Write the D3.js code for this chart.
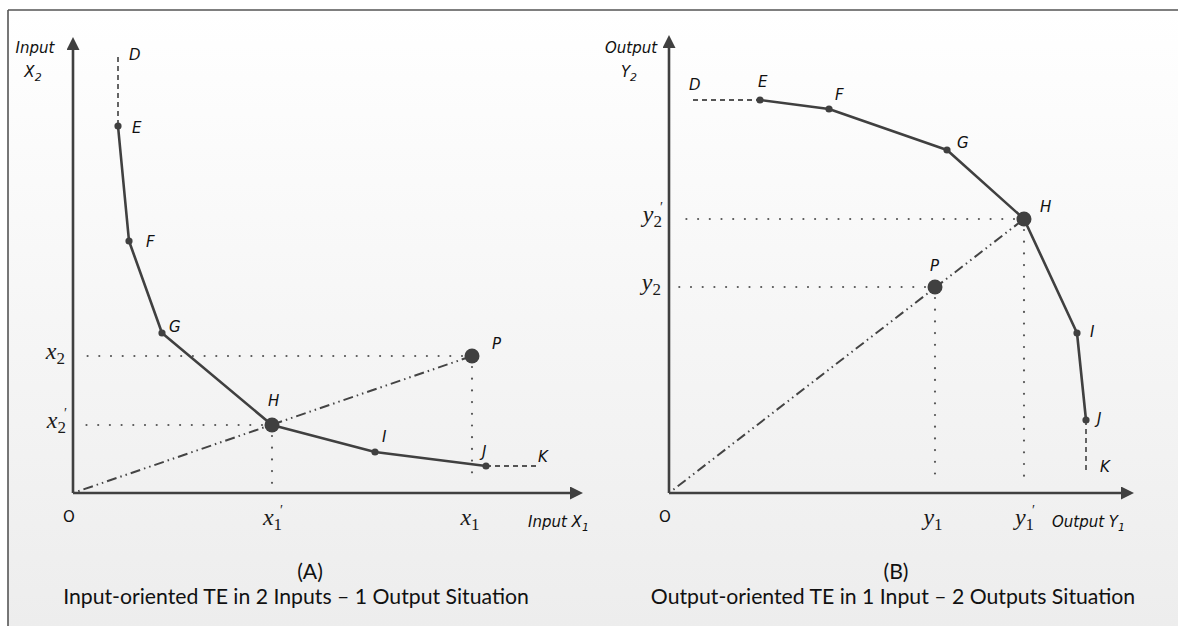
<!DOCTYPE html>
<html>
<head>
<meta charset="utf-8">
<script src="https://cdn.jsdelivr.net/npm/d3@7"></script>
<style>
  html, body { margin: 0; padding: 0; background: #ffffff; overflow: hidden; }
  svg { display: block; }
</style>
</head>
<body>
<script>
// Point names along each frontier (D and K are the open ends)
const pointNames = ["D", "E", "F", "G", "H", "I", "J", "K"];

// Panel A: input isoquant (2 inputs, 1 output)
const inputX1 = [9.0, 9.0, 11.2, 17.8, 39.8, 60.4, 82.6, 93.4];
const inputX2 = [87.2, 73.4, 50.4, 32.0, 13.6, 8.2, 5.4, 5.4];
const firmA = [79.8, 27.4];           // firm P (x1, x2)
const axisEndA = [102, 91.2];

// Panel B: production possibility frontier (1 input, 2 outputs)
const outputY1 = [4.8, 18.2, 32.0, 55.6, 71.0, 81.6, 83.4, 83.4];
const outputY2 = [78.6, 78.6, 76.8, 68.6, 54.8, 32.0, 14.6, 4.2];
const firmB = [53.2, 41.2];           // firm P (y1, y2)
const axisEndB = [93, 91.6];

// Captions
const captionTags = ["(A)", "(B)"];
const captionTexts = [
  "Input-oriented TE in 2 Inputs \u2013 1 Output Situation",
  "Output-oriented TE in 1 Input \u2013 2 Outputs Situation"
];

const W = 1178, H = 626;
const INK = "#404040";

const svg = d3.select("body").append("svg").attr("width", W).attr("height", H);
const defs = svg.append("defs");

const grad = defs.append("linearGradient").attr("id", "bg").attr("x1", 0).attr("y1", 0).attr("x2", 0).attr("y2", 1);
grad.append("stop").attr("offset", "0%").attr("stop-color", "#ffffff");
grad.append("stop").attr("offset", "100%").attr("stop-color", "#ededed");

defs.append("marker")
  .attr("id", "arrow").attr("viewBox", "0 0 13 13")
  .attr("refX", 7).attr("refY", 6.5)
  .attr("markerWidth", 13).attr("markerHeight", 13)
  .attr("markerUnits", "userSpaceOnUse").attr("orient", "auto")
  .append("path").attr("d", "M0,0 L13,6.5 L0,13 Z").attr("fill", INK);

// Framed background
svg.append("rect").attr("x", 8).attr("y", 10).attr("width", W - 8).attr("height", H - 10).attr("fill", "url(#bg)");
svg.append("line").attr("x1", 8).attr("y1", 10).attr("x2", W).attr("y2", 10).attr("stroke", "#555").attr("stroke-width", 1.6);
svg.append("line").attr("x1", 8).attr("y1", 10).attr("x2", 8).attr("y2", H).attr("stroke", "#555").attr("stroke-width", 1.6);

// Serif italic letter with an upright subscript and optional prime
function mathLabel(g, px, py, letter, sub, prime, anchor) {
  const t = g.append("text")
    .attr("x", px).attr("y", py).attr("text-anchor", anchor)
    .attr("font-family", "'Liberation Serif', 'DejaVu Serif', serif")
    .attr("font-style", "italic").attr("font-size", 24).attr("fill", "#1a1a1a");
  t.append("tspan").text(letter);
  t.append("tspan").attr("font-size", 17).attr("font-style", "normal").attr("dy", 5).text(sub);
  if (prime) {
    t.append("tspan").attr("font-size", 14).attr("font-style", "normal")
      .attr("dx", -2).attr("dy", -15).text("\u2032");
  }
}

function sansItalic(g, px, py, txt, anchor, sub) {
  const t = g.append("text")
    .attr("x", px).attr("y", py).attr("text-anchor", anchor || "start")
    .attr("font-family", "'DejaVu Sans', sans-serif").attr("font-style", "italic")
    .attr("font-size", 15).attr("fill", "#111");
  t.append("tspan").text(txt);
  if (sub) t.append("tspan").attr("font-size", 11).attr("dy", 4).text(sub);
  return t;
}

function drawPanel(cfg) {
  const g = svg.append("g");
  const x = d3.scaleLinear().domain([0, 100]).range([cfg.ox, cfg.ox + 500]);
  const y = d3.scaleLinear().domain([0, 100]).range([cfg.oy, cfg.oy - 500]);
  const pts = pointNames.map((n, i) => ({ name: n, px: x(cfg.xs[i]), py: y(cfg.ys[i]) }));
  const byName = Object.fromEntries(pts.map(p => [p.name, p]));
  const P = { px: x(cfg.firm[0]), py: y(cfg.firm[1]) };
  const Hp = byName.H;

  // Axes with arrowheads
  g.append("line").attr("x1", x(0)).attr("y1", y(0)).attr("x2", x(0)).attr("y2", y(cfg.axisEnd[1]) + 6)
    .attr("stroke", INK).attr("stroke-width", 2.6).attr("marker-end", "url(#arrow)");
  g.append("line").attr("x1", x(0)).attr("y1", y(0)).attr("x2", x(cfg.axisEnd[0]) - 6).attr("y2", y(0))
    .attr("stroke", INK).attr("stroke-width", 2.6).attr("marker-end", "url(#arrow)");

  // Dotted projections onto both axes
  const dotted = (x1, y1, x2, y2) => g.append("line")
    .attr("x1", x1).attr("y1", y1).attr("x2", x2).attr("y2", y2)
    .attr("stroke", "#555").attr("stroke-width", 2.2).attr("stroke-linecap", "round")
    .attr("stroke-dasharray", "0,11.7");
  [P, Hp].forEach(p => {
    dotted(p.px - 10, p.py, x(0) + 10, p.py);
    dotted(p.px, p.py + 11, p.px, y(0) - 10);
  });

  // Ray from the origin through the firm
  const rayEnd = cfg.rayTo === "P" ? P : Hp;
  g.append("line").attr("x1", x(0)).attr("y1", y(0)).attr("x2", rayEnd.px).attr("y2", rayEnd.py)
    .attr("stroke", "#444").attr("stroke-width", 2).attr("stroke-dasharray", "1.5,4,1.5,4,10,4");

  // Frontier: dashed open ends, solid piecewise segment
  const line = d3.line().x(p => p.px).y(p => p.py);
  const dashed = [pts.slice(0, 2), pts.slice(6, 8)];
  dashed.forEach(seg => g.append("path").attr("d", line(seg)).attr("fill", "none")
    .attr("stroke", "#555").attr("stroke-width", 1.8).attr("stroke-dasharray", "5,4"));
  g.append("path").attr("d", line(pts.slice(1, 7))).attr("fill", "none")
    .attr("stroke", INK).attr("stroke-width", 2.6).attr("stroke-linejoin", "round");

  // Markers
  pts.slice(1, 7).forEach(p => g.append("circle").attr("cx", p.px).attr("cy", p.py)
    .attr("r", p.name === "H" ? 7.5 : 3.6).attr("fill", INK));
  g.append("circle").attr("cx", P.px).attr("cy", P.py).attr("r", 7.5).attr("fill", INK);

  // Point names
  pts.forEach(p => {
    const o = cfg.labelOffsets[p.name];
    sansItalic(g, p.px + o[0], p.py + o[1], p.name);
  });
  sansItalic(g, P.px + cfg.labelOffsets.P[0], P.py + cfg.labelOffsets.P[1], "P");

  // Origin
  g.append("text").attr("x", x(0) - 4).attr("y", y(0) + 29).attr("text-anchor", "middle")
    .attr("font-family", "'DejaVu Sans', sans-serif").attr("font-size", 15).attr("fill", "#111").text("O");

  // Value labels on the axes
  const vy = [cfg.firm[1], cfg.ys[4]];
  const vx = [cfg.firm[0], cfg.xs[4]];
  mathLabel(g, x(0) - 8, y(vy[0]) + 3, cfg.letter, "2", false, "end");
  mathLabel(g, x(0) - 6, y(vy[1]) + 3, cfg.letter, "2", true, "end");
  mathLabel(g, x(vx[0]) - 2, y(0) + 32, cfg.letter, "1", false, "middle");
  mathLabel(g, x(vx[1]) + 1, y(0) + 32, cfg.letter, "1", true, "middle");

  // Axis titles
  sansItalic(g, cfg.ox - 38, 53, cfg.title, "middle");
  sansItalic(g, cfg.ox - 40, 77, cfg.titleLetter, "middle", "2");
  sansItalic(g, cfg.xTitleX, y(0) + 34, cfg.title + " " + cfg.titleLetter, "start", "1");
}

drawPanel({
  ox: 73, oy: 493, xs: inputX1, ys: inputX2, firm: firmA, axisEnd: axisEndA,
  rayTo: "P", letter: "x", title: "Input", titleLetter: "X", xTitleX: 528,
  labelOffsets: { D: [11, 3], E: [14, 7], F: [17, 6], G: [7, -1], H: [-4, -19],
                  I: [7, -10], J: [-4, -9], K: [-2, -4], P: [20, -7] }
});

drawPanel({
  ox: 669, oy: 493, xs: outputY1, ys: outputY2, firm: firmB, axisEnd: axisEndB,
  rayTo: "H", letter: "y", title: "Output", titleLetter: "Y", xTitleX: 1052,
  labelOffsets: { D: [-4, -10], E: [-2, -13], F: [6, -9], G: [10, -2], H: [16, -7],
                  I: [13, 4], J: [11, 4], K: [14, 0], P: [-5, -16] }
});

// Captions under each panel
const capCenters = [296, 893];
const capTagCenters = [310, 896];
const capG = svg.append("g").attr("font-family", "Lato, 'Open Sans', sans-serif").attr("fill", "#111");
const lines = captionTexts.map((t, i) => capG.append("text")
  .attr("x", capCenters[i]).attr("y", 604).attr("text-anchor", "middle").attr("font-size", 18).text(t));
const w0 = lines[0].node().getComputedTextLength();
const fs = 18 * 466 / w0;
lines.forEach(l => l.attr("font-size", fs));
captionTags.forEach((t, i) => capG.append("text")
  .attr("x", capTagCenters[i]).attr("y", 579).attr("text-anchor", "middle").attr("font-size", fs).text(t));
</script>
</body>
</html>
